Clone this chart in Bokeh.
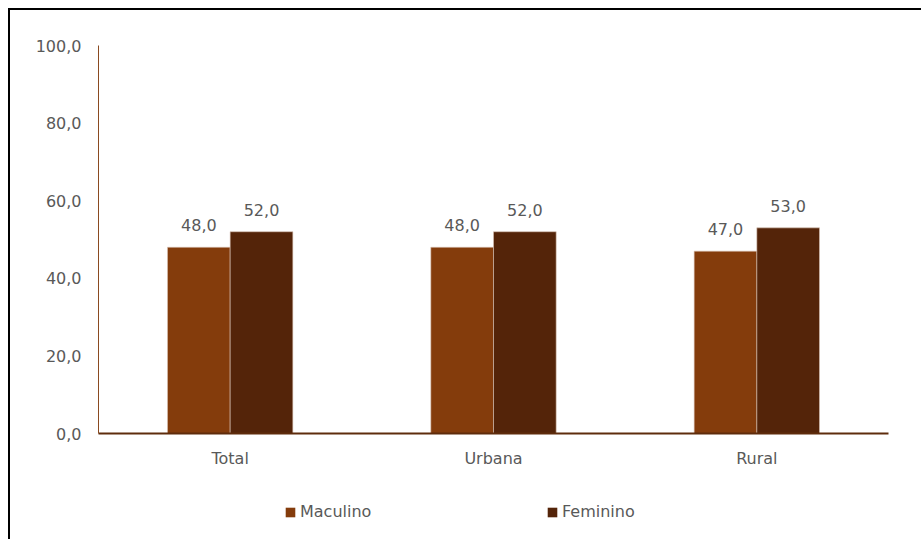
from bokeh.plotting import figure
from bokeh.layouts import column
from bokeh.models import ColumnDataSource, FactorRange, Range1d, LabelSet, Legend, LegendItem
from bokeh.transform import dodge
from bokeh.embed import file_html
from bokeh.resources import INLINE
from bokeh.core.properties import value

categories = ["Total", "Urbana", "Rural"]
maculino = [48.0, 48.0, 47.0]
feminino = [52.0, 52.0, 53.0]
series_names = ["Maculino", "Feminino"]
y_ticks = [0, 20, 40, 60, 80, 100]

colors = ["#843C0C", "#542409"]
edge = "#d9c3b5"
text_color = "#595959"
font = "DejaVu Sans"

def fmt(v):
    return f"{v:.1f}".replace(".", ",")

source = ColumnDataSource(data=dict(
    cat=categories,
    mac=maculino,
    fem=feminino,
    mac_lbl=[fmt(v) for v in maculino],
    fem_lbl=[fmt(v) for v in feminino],
))

p = figure(x_range=FactorRange(factors=categories, range_padding=0),
           y_range=Range1d(0, 100),
           width=911, height=463, output_backend="svg", toolbar_location=None,
           min_border_left=88, min_border_right=33, min_border_top=35, min_border_bottom=40)
p.outline_line_color = None
p.xgrid.grid_line_color = None
p.ygrid.grid_line_color = None

off = 0.119
w = 0.238
p.vbar(x=dodge("cat", -off, range=p.x_range), top="mac", width=w, source=source,
       fill_color=colors[0], line_color=edge, line_width=0.6)
p.vbar(x=dodge("cat", off, range=p.x_range), top="fem", width=w, source=source,
       fill_color=colors[1], line_color=edge, line_width=0.6)

for col, lbl, o in [("mac", "mac_lbl", -off), ("fem", "fem_lbl", off)]:
    ls = LabelSet(x=dodge("cat", o, range=p.x_range), y=col, text=lbl, source=source,
                  text_align="center", text_baseline="alphabetic", y_offset=16,
                  text_font=value(font), text_font_size="16px", text_color=text_color)
    p.add_layout(ls)

# axes
p.yaxis.ticker = y_ticks
p.yaxis.major_label_overrides = {t: fmt(t) for t in y_ticks}
p.yaxis.major_tick_line_color = None
p.yaxis.minor_tick_line_color = None
p.yaxis.axis_line_color = "#8a4a20"
p.yaxis.axis_line_width = 1
p.yaxis.major_label_standoff = 11
p.yaxis.major_label_text_font = font
p.yaxis.major_label_text_font_size = "16px"
p.yaxis.major_label_text_color = text_color

p.xaxis.major_tick_line_color = None
p.xaxis.minor_tick_line_color = None
p.xaxis.axis_line_color = "#5e2c0c"
p.xaxis.axis_line_width = 2
p.xaxis.major_label_standoff = 9
p.xaxis.major_label_text_font = font
p.xaxis.major_label_text_font_size = "16px"
p.xaxis.major_label_text_color = text_color

# legend strip (swatch renderers sit outside the visible range)
p2 = figure(width=911, height=66, x_axis_type=None, y_axis_type=None,
            x_range=Range1d(0, 1), y_range=Range1d(0, 1),
            output_backend="svg", toolbar_location=None, min_border=0)
p2.outline_line_color = None
p2.grid.visible = False
g1 = p2.vbar(x=[-5], top=[-5], bottom=[-6], width=0.1, fill_color=colors[0], line_color=None)
g2 = p2.vbar(x=[-5], top=[-5], bottom=[-6], width=0.1, fill_color=colors[1], line_color=None)
legend = Legend(items=[LegendItem(label=series_names[0], renderers=[g1]),
                       LegendItem(label=series_names[1], renderers=[g2])],
                orientation="horizontal", location=(186, 18),
                glyph_width=12, glyph_height=12, label_standoff=4, label_width=246,
                spacing=0, padding=0, margin=0, border_line_color=None,
                background_fill_alpha=0,
                label_text_font=font, label_text_font_size="16px", label_text_color=text_color)
p2.add_layout(legend, "center")

layout = column(p, p2, spacing=0,
                styles={"border-left": "2px solid black", "border-top": "2px solid black",
                        "margin-left": "8px", "margin-top": "8px"})

open("out.html", "w").write(file_html(layout, INLINE))
